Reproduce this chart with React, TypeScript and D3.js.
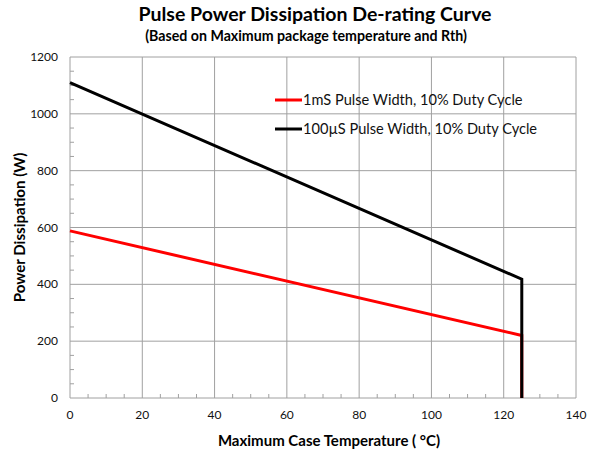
import React from "react";
import * as d3 from "d3";

const temps1 = [0, 125, 125];
const power1ms = [588, 220, 0];
const temps2 = [0, 125, 125];
const power100us = [1110, 418, 0];
const xTicks = [0, 20, 40, 60, 80, 100, 120, 140];
const yTicks = [0, 200, 400, 600, 800, 1000, 1200];
const seriesNames = ["1mS Pulse Width, 10% Duty Cycle", "100µS Pulse Width, 10% Duty Cycle"];
const seriesColors = ["#ff0000", "#000000"];

const W = 598, H = 455;
const m = { left: 70, right: 576, top: 57, bottom: 398 };
const font = "Lato, 'Open Sans', sans-serif";

export default function App() {
  const x = d3.scaleLinear().domain([0, 140]).range([m.left, m.right]);
  const y = d3.scaleLinear().domain([0, 1200]).range([m.bottom, m.top]);
  const line = d3.line<[number, number]>().x(d => x(d[0])).y(d => y(d[1]));
  const s1 = temps1.map((t, i) => [t, power1ms[i]] as [number, number]);
  const s2 = temps2.map((t, i) => [t, power100us[i]] as [number, number]);
  const xMinor = d3.range(0, 141, 5).filter(v => v % 20 !== 0);
  const yMinor = d3.range(0, 1201, 50).filter(v => v % 200 !== 0);
  return (
    <svg width={W} height={H} style={{ position: "absolute", left: 0, top: 0, fontFamily: font }}>
      <rect width={W} height={H} fill="#fff" />
      <text x={315} y={21} textAnchor="middle" fontSize={19.5} fontWeight="bold">Pulse Power Dissipation De-rating Curve</text>
      <text x={306} y={41} textAnchor="middle" fontSize={14.2} fontWeight="bold">(Based on Maximum package temperature and Rth)</text>
      {yTicks.map(v => (
        <line key={"gy" + v} x1={m.left} x2={m.right} y1={y(v)} y2={y(v)} stroke="#a0a0a0" strokeWidth={1} />
      ))}
      {xTicks.map(v => (
        <line key={"gx" + v} x1={x(v)} x2={x(v)} y1={m.top} y2={m.bottom} stroke="#a0a0a0" strokeWidth={1} />
      ))}
      {xMinor.map(v => (
        <line key={"mx" + v} x1={x(v)} x2={x(v)} y1={m.bottom} y2={m.bottom - 4} stroke="#a0a0a0" />
      ))}
      {yMinor.map(v => (
        <line key={"my" + v} x1={m.left} x2={m.left + 4} y1={y(v)} y2={y(v)} stroke="#a0a0a0" />
      ))}
      {yTicks.map(v => (
        <text key={"ty" + v} x={m.left - 12} y={y(v) + 4} textAnchor="end" fontSize={12} fill="#111">{v}</text>
      ))}
      {xTicks.map(v => (
        <text key={"tx" + v} x={x(v)} y={m.bottom + 21} textAnchor="middle" fontSize={12} fill="#111">{v}</text>
      ))}
      <path d={line(s1) || ""} fill="none" stroke={seriesColors[0]} strokeWidth={3} />
      <path d={line(s2) || ""} fill="none" stroke={seriesColors[1]} strokeWidth={3} />
      {seriesNames.map((n, i) => (
        <g key={n}>
          <line x1={275} x2={302} y1={100 + i * 29} y2={100 + i * 29} stroke={seriesColors[i]} strokeWidth={3} />
          <text x={303} y={105 + i * 29} fontSize={14.6} fill="#111">{n}</text>
        </g>
      ))}
      <text x={329} y={446} textAnchor="middle" fontSize={15} fontWeight="bold">Maximum Case Temperature ( °C)</text>
      <text transform={`translate(25,227.5) rotate(-90)`} textAnchor="middle" fontSize={15.1} fontWeight="bold">Power Dissipation (W)</text>
    </svg>
  );
}
